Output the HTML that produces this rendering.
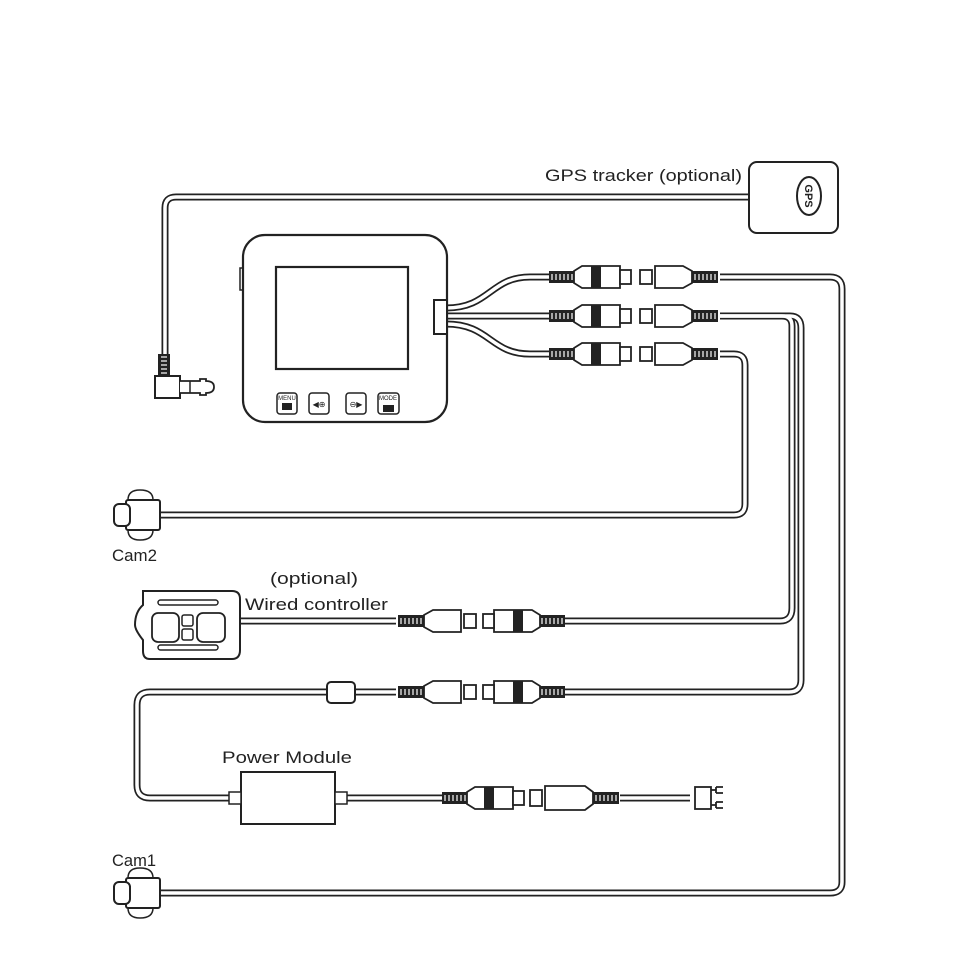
<!DOCTYPE html>
<html><head><meta charset="utf-8"><style>
html,body{margin:0;padding:0;background:#fff}
svg{display:block}
text{font-family:"Liberation Sans",sans-serif;fill:#222}
</style></head><body>
<svg width="960" height="960" viewBox="0 0 960 960" xmlns="http://www.w3.org/2000/svg">
<defs>
<g id="ridge">
  <rect x="0" y="-6" width="26" height="12" fill="#222"/>
  <g stroke="#fff" stroke-width="1.2">
    <line x1="3" y1="-3" x2="3" y2="3"/><line x1="7" y1="-3" x2="7" y2="3"/><line x1="11" y1="-3" x2="11" y2="3"/>
    <line x1="15" y1="-3" x2="15" y2="3"/><line x1="19" y1="-3" x2="19" y2="3"/><line x1="23" y1="-3" x2="23" y2="3"/>
  </g>
</g>
<g id="fem">
  <use href="#ridge"/>
  <path d="M25,-6 L33,-11 L71,-11 L71,11 L33,11 L25,6 Z" fill="#fff" stroke="#222" stroke-width="1.8"/>
  <rect x="42" y="-11" width="10" height="22" fill="#222"/>
  <rect x="71" y="-7" width="11" height="14" fill="#fff" stroke="#222" stroke-width="1.8"/>
</g>
<g id="male">
  <rect x="0" y="-7" width="12" height="14" fill="#fff" stroke="#222" stroke-width="1.8"/>
  <path d="M15,-11 L43,-11 L52,-6 L52,6 L43,11 L15,11 Z" fill="#fff" stroke="#222" stroke-width="1.8"/>
  <use href="#ridge" x="52"/>
</g>
</defs>

<g fill="none" stroke-linejoin="round" stroke-linecap="butt">
  <g stroke="#222" stroke-width="7">
    <path d="M750,197 H176 Q165,197 165,208 V356"/>
    <path d="M446,308 C490,308 490,277 530,277 H550"/>
    <path d="M446,316 H550"/>
    <path d="M446,324 C490,324 490,354 530,354 H550"/>
    <path d="M720,277 H830 Q842,277 842,289 V882 Q842,893 830,893 H160"/>
    <path d="M720,316 H782 Q792,316 792,326 V608 Q792,621 780,621 H565"/>
    <path d="M720,316 H790 Q801,316 801,328 V680 Q801,692 789,692 H565"/>
    <path d="M720,354 H734 Q745,354 745,365 V504 Q745,515 734,515 H160"/>
    <path d="M240,621 H396"/>
    <path d="M396,692 H150 Q137,692 137,705 V785 Q137,798 150,798 H230"/>
    <path d="M345,798 H444"/>
    <path d="M620,798 H690"/>
  </g>
  <g stroke="#fff" stroke-width="3.5">
    <path d="M750,197 H176 Q165,197 165,208 V356"/>
    <path d="M446,308 C490,308 490,277 530,277 H550"/>
    <path d="M446,316 H550"/>
    <path d="M446,324 C490,324 490,354 530,354 H550"/>
    <path d="M720,277 H830 Q842,277 842,289 V882 Q842,893 830,893 H160"/>
    <path d="M720,316 H782 Q792,316 792,326 V608 Q792,621 780,621 H565"/>
    <path d="M720,316 H790 Q801,316 801,328 V680 Q801,692 789,692 H565"/>
    <path d="M720,354 H734 Q745,354 745,365 V504 Q745,515 734,515 H160"/>
    <path d="M240,621 H396"/>
    <path d="M396,692 H150 Q137,692 137,705 V785 Q137,798 150,798 H230"/>
    <path d="M345,798 H444"/>
    <path d="M620,798 H690"/>
  </g>
</g>

<!-- GPS -->
<rect x="749" y="162" width="89" height="71" rx="8" fill="#fff" stroke="#222" stroke-width="2"/>
<ellipse cx="809" cy="196" rx="12" ry="19" fill="#fff" stroke="#222" stroke-width="2"/>
<text x="0" y="0" font-size="11" font-weight="bold" text-anchor="middle" transform="translate(805,196) rotate(90)">GPS</text>
<text x="545" y="181" font-size="17" textLength="197" lengthAdjust="spacingAndGlyphs">GPS tracker (optional)</text>

<!-- jack -->
<use href="#ridge" transform="translate(164,354) rotate(90)"/>
<rect x="155" y="376" width="25" height="22" fill="#fff" stroke="#222" stroke-width="2"/>
<path d="M180,381 H200 V379 H206 V381 Q214,381 214,387 Q214,393 206,393 V395 H200 V393 H180" fill="#fff" stroke="#222" stroke-width="1.8"/>
<line x1="190" y1="381" x2="190" y2="393" stroke="#222" stroke-width="1.5"/>

<!-- device -->
<rect x="240" y="268" width="6" height="22" fill="#fff" stroke="#222" stroke-width="1.5"/>
<rect x="243" y="235" width="204" height="187" rx="22" fill="#fff" stroke="#222" stroke-width="2.2"/>
<rect x="276" y="267" width="132" height="102" fill="#fff" stroke="#222" stroke-width="2.2"/>
<rect x="434" y="300" width="13" height="34" fill="#fff" stroke="#222" stroke-width="2"/>
<g fill="#fff" stroke="#222" stroke-width="1.5">
  <rect x="277" y="393" width="20" height="21" rx="3"/>
  <rect x="309" y="393" width="20" height="21" rx="3"/>
  <rect x="346" y="393" width="20" height="21" rx="3"/>
  <rect x="378" y="393" width="21" height="21" rx="3"/>
</g>
<text x="287" y="400" font-size="6" text-anchor="middle">MENU</text>
<rect x="282" y="403" width="10" height="7" fill="#222"/>
<text x="319" y="407" font-size="8" text-anchor="middle">◀⊕</text>
<text x="356" y="407" font-size="8" text-anchor="middle">⊖▶</text>
<text x="388" y="400" font-size="6" text-anchor="middle">MODE</text>
<rect x="383" y="405" width="11" height="7" fill="#222"/>

<!-- device connectors -->
<use href="#fem" x="549" y="277"/><use href="#male" x="640" y="277"/>
<use href="#fem" x="549" y="316"/><use href="#male" x="640" y="316"/>
<use href="#fem" x="549" y="354"/><use href="#male" x="640" y="354"/>

<!-- cam2 -->
<path d="M128,500 Q128,490 140,490 Q153,490 153,500 Z" fill="#fff" stroke="#222" stroke-width="1.5"/>
<path d="M128,530 Q128,540 140,540 Q153,540 153,530 Z" fill="#fff" stroke="#222" stroke-width="1.5"/>
<rect x="126" y="500" width="34" height="30" rx="2" fill="#fff" stroke="#222" stroke-width="2"/>
<rect x="114" y="504" width="16" height="22" rx="5" fill="#fff" stroke="#222" stroke-width="2"/>
<text x="112" y="561" font-size="17" textLength="45" lengthAdjust="spacingAndGlyphs">Cam2</text>

<!-- wired controller -->
<text x="270" y="584" font-size="17" textLength="88" lengthAdjust="spacingAndGlyphs">(optional)</text>
<text x="245" y="610" font-size="17" textLength="143" lengthAdjust="spacingAndGlyphs">Wired controller</text>
<path d="M143,591 H232 Q240,591 240,599 V650 Q240,659 232,659 H150 Q143,659 143,651 V640 Q135,630 135,625 Q135,612 143,605 Z" fill="#fff" stroke="#222" stroke-width="2"/>
<rect x="158" y="600" width="60" height="5" rx="2.5" fill="#fff" stroke="#222" stroke-width="1.5"/>
<rect x="158" y="645" width="60" height="5" rx="2.5" fill="#fff" stroke="#222" stroke-width="1.5"/>
<rect x="152" y="613" width="27" height="29" rx="6" fill="#fff" stroke="#222" stroke-width="1.8"/>
<rect x="197" y="613" width="28" height="29" rx="6" fill="#fff" stroke="#222" stroke-width="1.8"/>
<rect x="182" y="615" width="11" height="11" rx="2" fill="#fff" stroke="#222" stroke-width="1.5"/>
<rect x="182" y="629" width="11" height="11" rx="2" fill="#fff" stroke="#222" stroke-width="1.5"/>
<use href="#male" transform="translate(476,621) scale(-1,1)"/>
<use href="#fem" transform="translate(565,621) scale(-1,1)"/>

<!-- power row -->
<rect x="327" y="682" width="28" height="21" rx="4" fill="#fff" stroke="#222" stroke-width="2"/>
<use href="#male" transform="translate(476,692) scale(-1,1)"/>
<use href="#fem" transform="translate(565,692) scale(-1,1)"/>

<!-- power module -->
<text x="222" y="763" font-size="17" textLength="130" lengthAdjust="spacingAndGlyphs">Power Module</text>
<rect x="241" y="772" width="94" height="52" fill="#fff" stroke="#222" stroke-width="2"/>
<rect x="229" y="792" width="12" height="12" fill="#fff" stroke="#222" stroke-width="1.5"/>
<rect x="335" y="792" width="12" height="12" fill="#fff" stroke="#222" stroke-width="1.5"/>
<use href="#fem" x="442" y="798"/>
<rect x="530" y="790" width="12" height="16" fill="#fff" stroke="#222" stroke-width="1.8"/>
<path d="M545,786 H585 L593,792 V804 L585,810 H545 Z" fill="#fff" stroke="#222" stroke-width="1.8"/>
<use href="#ridge" x="593" y="798"/>
<rect x="695" y="787" width="16" height="22" fill="#fff" stroke="#222" stroke-width="1.8"/>
<path d="M711,790 H716 M716,787 H723 M716,793 H723 M711,805 H716 M716,802 H723 M716,808 H723 M716,787 V793 M716,802 V808" stroke="#222" stroke-width="1.8" fill="none"/>

<!-- cam1 -->
<text x="112" y="866" font-size="17" textLength="44" lengthAdjust="spacingAndGlyphs">Cam1</text>
<path d="M128,878 Q128,868 140,868 Q153,868 153,878 Z" fill="#fff" stroke="#222" stroke-width="1.5"/>
<path d="M128,908 Q128,918 140,918 Q153,918 153,908 Z" fill="#fff" stroke="#222" stroke-width="1.5"/>
<rect x="126" y="878" width="34" height="30" rx="2" fill="#fff" stroke="#222" stroke-width="2"/>
<rect x="114" y="882" width="16" height="22" rx="5" fill="#fff" stroke="#222" stroke-width="2"/>
</svg>
</body></html>
